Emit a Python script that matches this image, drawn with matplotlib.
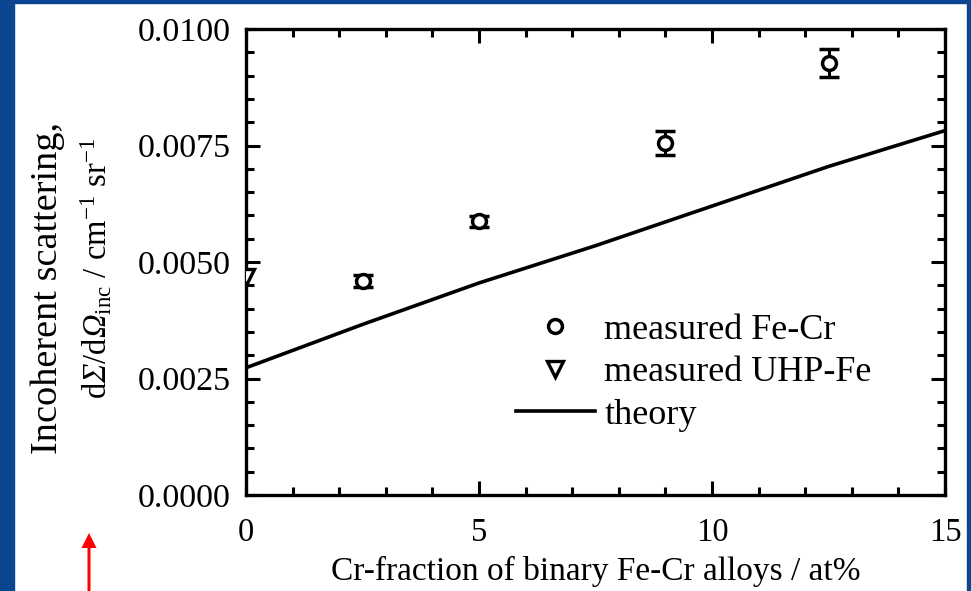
import matplotlib
matplotlib.use("Agg")
import matplotlib.pyplot as plt
from matplotlib.patches import Rectangle, FancyArrow
from matplotlib.lines import Line2D

plt.rcParams['font.family'] = ['Liberation Serif', 'DejaVu Serif']
plt.rcParams['mathtext.fontset'] = 'custom'
plt.rcParams['mathtext.rm'] = 'Liberation Serif'
plt.rcParams['mathtext.it'] = 'Liberation Serif:italic'
# italic slot used for the upright-forced capital Greek letters
plt.rcParams['mathtext.sf'] = 'Liberation Serif:italic'

# Measured Fe-Cr alloys
cr_frac = [2.5, 5.0, 9.0, 12.5]
dsigma_fecr = [0.00459, 0.00587, 0.00755, 0.00927]
dsigma_fecr_err = [0.00013, 0.00012, 0.00026, 0.00030]

# Measured ultra-high-purity iron
cr_uhp = [0.0]
dsigma_uhp = [0.00468]

# Theoretical incoherent scattering
cr_theory = [0.0, 2.5, 5.0, 7.5, 10.0, 12.5, 15.0]
dsigma_theory = [0.00273, 0.00366, 0.00455, 0.00535, 0.00620, 0.00705, 0.00782]

x_ticks = [0, 5, 10, 15]
y_ticks = [0.0, 0.0025, 0.0050, 0.0075, 0.0100]
y_ticklabels = ["0.0000", "0.0025", "0.0050", "0.0075", "0.0100"]

W, H = 971, 591
fig = plt.figure(figsize=(W / 100, H / 100), dpi=100)

# Blue slide frame
blue = '#0B4490'
fig.patches.append(Rectangle((0, 0), 14 / W, 1, transform=fig.transFigure, color=blue, zorder=0))
fig.patches.append(Rectangle((0, 1 - 3 / H), 1, 3 / H, transform=fig.transFigure, color=blue, zorder=0))
fig.patches.append(Rectangle((967 / W, 0), 4 / W, 1, transform=fig.transFigure, color=blue, zorder=0))

ax = fig.add_axes([246 / W, (H - 495) / H, (945 - 246) / W, (495 - 29) / H])

ax.plot(cr_theory, dsigma_theory, color='black', lw=2.6, label='theory', zorder=2)
ax.errorbar(cr_frac, dsigma_fecr, yerr=dsigma_fecr_err, fmt='o', ms=10, mfc='white',
            mec='black', mew=2.5, ecolor='black', elinewidth=2.2, capsize=7, capthick=2.4,
            zorder=3)
ax.plot(cr_uhp, dsigma_uhp, 'v', ms=11, mfc='white', mec='black', mew=2.4, zorder=3,
        clip_on=True)

ax.set_xlim(0, 15)
ax.set_ylim(0, 0.0100)
ax.set_xticks(x_ticks)
ax.set_xticklabels([str(t) for t in x_ticks])
ax.set_yticks(y_ticks)
ax.set_yticklabels(y_ticklabels)
ax.set_xticks([t for t in range(16) if t % 5 != 0], minor=True)
ax.set_yticks([i * 0.0005 for i in range(21) if i % 5 != 0], minor=True)

ax.tick_params(which='both', direction='in', top=True, right=True, width=2.2, color='black')
ax.tick_params(which='major', length=10)
ax.tick_params(which='minor', length=6)
ax.tick_params(axis='y', which='major', labelsize=24.5, pad=11)
ax.tick_params(axis='x', which='major', labelsize=23.5, pad=16)
for s in ax.spines.values():
    s.set_linewidth(2.4)

ax.set_xlabel('Cr-fraction of binary Fe-Cr alloys / at%', fontsize=24, labelpad=6)

# Two-line y-axis title
fig.text(48 / W, 1 - 288 / H, 'Incoherent scattering,', rotation=90, fontsize=27.5,
         ha='center', va='center')
fig.text(97 / W, 1 - 268 / H,
         'd$\\mathsf{Σ}$/d$\\mathsf{Ω}_{\\rm inc}$ / cm$^{-1}$ sr$^{-1}$',
         rotation=90, fontsize=23.5, ha='center', va='center')

# Legend
handles = [
    Line2D([], [], ls='none', marker='o', ms=10, mfc='white', mec='black', mew=2.5),
    Line2D([], [], ls='none', marker='v', ms=11, mfc='white', mec='black', mew=2.4),
    Line2D([], [], color='black', lw=2.6),
]
ax.legend(handles, ['measured Fe-Cr', 'measured UHP-Fe', 'theory'], loc='lower left',
          bbox_to_anchor=(0.360, 0.097), frameon=False, fontsize=26, handlelength=2.2,
          handletextpad=0.25, labelspacing=0.25, borderpad=0)

# Red arrow
fig.add_artist(FancyArrow(89 / W, 0, 0, (H - 533) / H, width=3 / W, head_width=15 / W,
                          head_length=15 / H, length_includes_head=True,
                          transform=fig.transFigure, color='#FF0000', lw=0))

fig.savefig('out.png', dpi=100, facecolor='white')
